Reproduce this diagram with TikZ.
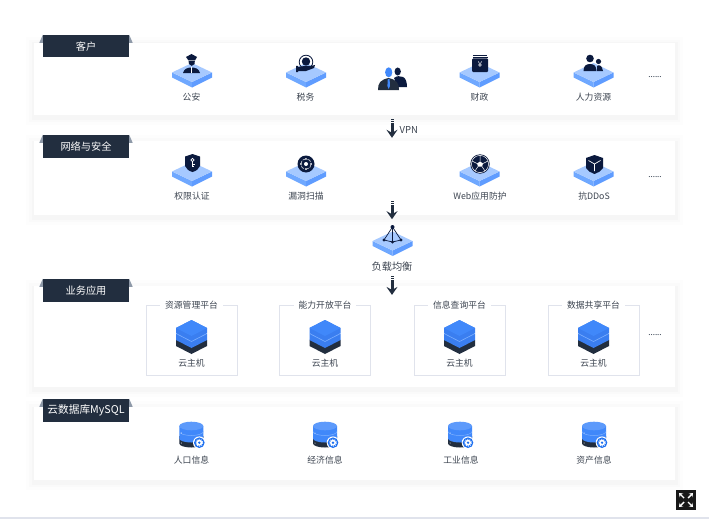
\documentclass[tikz,border=0pt]{standalone}
\usepackage{fontspec}
\setmainfont{Noto Sans CJK SC}
\usetikzlibrary{
arrows.meta,
calc,
positioning
}
\definecolor{tabdark}{HTML}{222E3F}
\definecolor{earcolor}{HTML}{8E99A8}
\definecolor{iconnavy}{HTML}{0B1A3E}
\definecolor{labelgray}{HTML}{3C4450}
\definecolor{platetop}{HTML}{A6C9FF}
\definecolor{plateleft}{HTML}{6FA8FF}
\definecolor{plateright}{HTML}{5F9CFF}
\definecolor{hostblue}{HTML}{4088FA}
\definecolor{hostside}{HTML}{3A7EF0}
\definecolor{hostline}{HTML}{7DB0FF}
\definecolor{gearblue}{HTML}{1C6FF0}
\definecolor{platedge}{HTML}{E0E3EC}
\tikzset{>=latex,
	panel/.style={fill=white,minimum width=641pt,inner sep=0pt,
		preaction={draw=black,draw opacity=.007,line width=16pt,transform canvas={yshift=-2pt}},
		preaction={draw=black,draw opacity=.01,line width=10pt,transform canvas={yshift=-2pt}},
		preaction={draw=black,draw opacity=.014,line width=5pt,transform canvas={yshift=-2pt}}},
	tabbox/.style={fill=tabdark,text=white,minimum width=86pt,minimum height=22.5pt,inner sep=0pt,below right,font=\fontsize{10.2}{12}\selectfont},
	itemlabel/.style={text=labelgray,inner sep=0pt,font=\fontsize{8.8}{11}\selectfont},
	platbox/.style={draw=platedge,line width=1pt,minimum width=91pt,minimum height=70pt,inner sep=0pt},
	plattitle/.style={fill=white,text=labelgray,inner sep=0pt,inner xsep=5pt,font=\fontsize{8.8}{11}\selectfont},
	moredots/.style={text=tabdark,inner sep=0pt,font=\fontsize{8}{9}\selectfont},
	flowtop/.style={draw=tabdark,line width=3pt,dash pattern=on 1pt off 1pt},
	flowline/.style={draw=tabdark,line width=3pt,-{Stealth[width=11pt,length=8pt,inset=3pt]}},
	isoplate/.pic={
		\fill[plateleft] (-20,0) -- (0,9.5) -- (0,15) -- (-20,5) -- cycle;
		\fill[plateright] (20,0) -- (0,9.5) -- (0,15) -- (20,5) -- cycle;
		\fill[platetop] (-20,0) -- (0,-9.5) -- (20,0) -- (0,9.5) -- cycle;
	},
	hoststack/.pic={
		\fill[tabdark] (-15.5,12) -- (0,4) -- (15.5,12) -- (15.5,18) -- (0,26) -- (-15.5,18) -- cycle;
		\fill[hostside] (-15.5,6) -- (0,-2) -- (15.5,6) -- (15.5,12) -- (0,20) -- (-15.5,12) -- cycle;
		\fill[hostside] (-15.5,0) -- (0,-8) -- (15.5,0) -- (15.5,5) -- (0,13) -- (-15.5,5) -- cycle;
		\fill[hostblue] (-15.5,0) -- (0,-8) -- (15.5,0) -- (0,8) -- cycle;
		\draw[hostline,line width=.6pt] (-15.5,5.5) -- (0,13.5) -- (15.5,5.5);
	},
	dbdisk/.pic={
		\fill[tabdark] (-12,14) -- (-12,21.5) arc[start angle=180,end angle=360,x radius=12,y radius=-4] -- (12,14) -- cycle;
		\fill[hostblue] (-12,4) -- (-12,16.5) arc[start angle=180,end angle=360,x radius=12,y radius=-4] -- (12,4) -- cycle;
		\draw[hostline,line width=.5pt] (-12,9.5) arc[start angle=180,end angle=360,x radius=12,y radius=-4];
		\fill[hostblue!85!white] (0,4) ellipse[x radius=12,y radius=4.3];
		\fill[white] (-10,11) circle[radius=.5] (-10,21) circle[radius=.5];
		\fill[white] (8,20.7) circle[radius=6.3];
		\fill[gearblue] (8,20.7) circle[radius=5.3];
		\fill[white] (8,20.7) circle[radius=3];
		\draw[white,line width=.8pt,dash pattern=on 1pt off 1.2pt] (8,20.7) circle[radius=3.5];
		\fill[gearblue] (8,20.7) circle[radius=1.3];
	}
}
\newcommand{\tabears}[1]{
	\fill[earcolor] ([xshift=-3.5pt,yshift=-8pt]#1.north west) -- (#1.north west) -- ([yshift=-8pt]#1.north west) -- cycle;
	\fill[earcolor] ([xshift=3.5pt,yshift=-8pt]#1.north east) -- (#1.north east) -- ([yshift=-8pt]#1.north east) -- cycle;
}
\begin{document}
\begin{tikzpicture}[x=1pt,y=-1pt]
	\useasboundingbox (0,0) rectangle (709,519);
	\fill[platedge] (0,517) rectangle (709,519);

	\node[panel,minimum height=72pt] (customer) at (354.5,79) {};
	\node[panel,minimum height=74pt] (security) at (354.5,178) {};
	\node[panel,minimum height=101pt] (business) at (354.5,336.5) {};
	\node[panel,minimum height=73pt] (database) at (354.5,443.5) {};

	% tabs
	\node[tabbox] (tabcustomer) at ([xshift=9pt,yshift=8pt]customer.north west) {客户};
	\node[tabbox] (tabsecurity) at ([xshift=9pt,yshift=6pt]security.north west) {网络与安全};
	\node[tabbox] (tabbusiness) at ([xshift=9pt,yshift=7pt]business.north west) {业务应用};
	\node[tabbox,font=\fontsize{10.7}{12}\selectfont] (tabdatabase) at ([xshift=9pt,yshift=8pt]database.north west) {云数据库MySQL};
	\tabears{tabcustomer}
	\tabears{tabsecurity}
	\tabears{tabbusiness}
	\tabears{tabdatabase}

	% customer row
	\pic at (192,72.5) {isoplate};
	\pic at (306,72.5) {isoplate};
	\pic at (479.5,72.5) {isoplate};
	\pic at (593.5,72.5) {isoplate};
	\node[itemlabel] (police) at (191.5,97.5) {公安};
	\node[itemlabel] (tax) at (305.5,97.5) {税务};
	\node[itemlabel] (finance) at (479.5,97.5) {财政};
	\node[itemlabel] (hr) at (593.5,97.5) {人力资源};
	\node[moredots] (moreA) at (655,77.5) {......};

	% police
	\fill[iconnavy] (186,57) -- (191.5,54) -- (197,57) -- (195,60.5) -- (188.5,60.5) -- cycle;
	\fill[iconnavy] (188.5,61) -- (194.8,61) -- (194.5,64) .. controls (193.5,66.5) and (190,66.5) .. (189,64) -- cycle;
	\fill[iconnavy] (183,73) .. controls (184,68.5) and (188,67.5) .. (191.5,67.5) .. controls (195,67.5) and (199,68.5) .. (200,73) -- cycle;
	\draw[white,line width=.6pt] (191.5,67) -- (191.5,73);
	% tax
	\draw[iconnavy,line width=.8pt] (306,62) circle[radius=6.8];
	\fill[iconnavy] (306,61.5) circle[radius=4.2];
	\fill[iconnavy] (296,66) -- (298,66) -- (298,67) -- (304,66) .. controls (308,66) and (312,66) .. (315,65) -- (314,68) -- (306,71) -- (298,71) -- (298,72) -- (296,72) -- cycle;
	% finance
	\fill[iconnavy,rounded corners=1pt] (472,58.5) rectangle (488,72);
	\fill[iconnavy] (473,55) rectangle (487,55.8);
	\fill[iconnavy] (472.5,56.8) rectangle (487.5,57.6);
	\node[text=white,inner sep=0pt,font=\fontsize{8}{9}\selectfont] (yen) at (480,65) {¥};
	% human resources
	\fill[iconnavy] (590,58.5) circle[radius=3.8];
	\fill[iconnavy] (583.5,71) .. controls (583.5,66) and (586,64) .. (590,64) .. controls (594,64) and (596.5,66) .. (596.5,71) -- cycle;
	\fill[iconnavy] (598.5,61.5) circle[radius=2.6];
	\fill[iconnavy] (597,71) -- (597,66) .. controls (599,64.5) and (602,65) .. (603,71) -- cycle;
	% people between the plates
	\fill[iconnavy] (397.7,71.5) ellipse[x radius=3.2,y radius=4];
	\fill[iconnavy] (394,78) .. controls (397,75.5) and (400,76) .. (403,77) .. controls (406,78) and (407,83) .. (407,87) -- (398,87) -- cycle;
	\fill[tabdark] (378,90) .. controls (378,83) and (380,80) .. (388.5,78) .. controls (397,80) and (399,83) .. (399,90) -- cycle;
	\fill[hostblue] (388.7,72.3) ellipse[x radius=3.6,y radius=5];
	\fill[hostblue] (387.8,79) -- (389.6,79) -- (390,86) -- (388.7,89) -- (387.4,86) -- cycle;

	% security row
	\pic at (192,171.5) {isoplate};
	\pic at (306,171.5) {isoplate};
	\pic at (479.5,171.5) {isoplate};
	\pic at (593.5,171.5) {isoplate};
	\node[itemlabel] (auth) at (192,196.5) {权限认证};
	\node[itemlabel] (scan) at (306,196.5) {漏洞扫描};
	\node[itemlabel] (waf) at (480,196.5) {Web应用防护};
	\node[itemlabel] (ddos) at (594,196.5) {抗DDoS};
	\node[moredots] (moreB) at (655,177) {......};

	% shield with key
	\fill[iconnavy] (185,156.5) -- (192.5,154) -- (200,156.5) -- (200,166) .. controls (199,169) and (196,171) .. (192.5,172) .. controls (189,171) and (186,169) .. (185,166) -- cycle;
	\draw[white,line width=.7pt] (192.5,160) circle[radius=1.6];
	\draw[white,line width=.7pt] (192.5,161.6) -- (192.5,167) (192.5,164) -- (194.5,164) (192.5,166) -- (194,166);
	% target
	\fill[iconnavy] (306,164) circle[radius=8.5];
	\draw[white,line width=.5pt,dash pattern=on 4pt off 1.2pt] (306,164) circle[radius=5.3];
	\fill[white] (306,164) circle[radius=2];
	\fill[white] (301,164) circle[radius=.8] (311,164) circle[radius=.8] (306,159) circle[radius=.8] (306,169) circle[radius=.8];
	% web ball
	\fill[iconnavy] (480,164) circle[radius=9.7];
	\draw[white,line width=.5pt] (480,164) circle[radius=8.6];
	\fill[white] (480,161.5) -- (483,163.5) -- (482,166.5) -- (478,166.5) -- (477,163.5) -- cycle;
	\draw[white,line width=.5pt] (480,161.5) -- (480,155.5) (483,163.5) -- (488,161) (482,166.5) -- (485,171) (478,166.5) -- (475,171) (477,163.5) -- (472,161);
	% cube shield
	\fill[iconnavy] (594.5,155) -- (603,158) -- (603,168) .. controls (601,171) and (598,173) .. (594.5,174) .. controls (591,173) and (588,171) .. (586,168) -- (586,158) -- cycle;
	\draw[white,line width=.7pt] (594.5,164) -- (594.5,171) (594.5,164) -- (588.5,160.5) (594.5,164) -- (600.5,160.5);

	% load balancing
	\pic at (392.5,241) {isoplate};
	\node[itemlabel,font=\fontsize{10.2}{12}\selectfont] (balance) at (392,267) {负载均衡};
	\draw[iconnavy,line width=.7pt] (392.5,227) -- (384,240) -- (392.5,242) -- (401,240) -- cycle (392.5,227) -- (392.5,242);
	\fill[iconnavy] (392.5,227) circle[radius=2] (384,240) circle[radius=1.7] (392.5,242) circle[radius=1.7] (401,240) circle[radius=1.7];

	% business platforms
	\node[platbox] (platA) at (191.5,340) {};
	\node[platbox,right=41.5pt of platA] (platB) {};
	\node[platbox,right=42.5pt of platB] (platC) {};
	\node[platbox,right=42pt of platC] (platD) {};
	\node[plattitle] (titleA) at ([yshift=-1pt]platA.north) {资源管理平台};
	\node[plattitle] (titleB) at ([yshift=-1pt]platB.north) {能力开放平台};
	\node[plattitle] (titleC) at ([yshift=-1pt]platC.north) {信息查询平台};
	\node[plattitle] (titleD) at ([yshift=-1pt]platD.north) {数据共享平台};
	\pic at (191.5,328) {hoststack};
	\pic at (325,328) {hoststack};
	\pic at (459.5,328) {hoststack};
	\pic at (593.5,328) {hoststack};
	\node[itemlabel] (hostA) at (191.5,362.7) {云主机};
	\node[itemlabel] (hostB) at (325,362.7) {云主机};
	\node[itemlabel] (hostC) at (459.5,362.7) {云主机};
	\node[itemlabel] (hostD) at (593.5,362.7) {云主机};
	\node[moredots] (moreC) at (655,335.5) {......};

	% databases
	\pic at (191.3,422) {dbdisk};
	\pic at (325,422) {dbdisk};
	\pic at (460,422) {dbdisk};
	\pic at (594,422) {dbdisk};
	\node[itemlabel] (population) at (191.5,460.5) {人口信息};
	\node[itemlabel] (economy) at (325,460.5) {经济信息};
	\node[itemlabel] (industry) at (461,460.5) {工业信息};
	\node[itemlabel] (assets) at (594,460.5) {资产信息};

	% arrows
	\coordinate (vpnA) at ([xshift=37.5pt,yshift=-4pt]customer.south);
	\coordinate (vpnB) at ([xshift=37.5pt,yshift=-9pt]customer.south);
	\coordinate (vpnC) at ([xshift=37.5pt,yshift=3pt]security.north);
	\draw[flowtop] (vpnA) -- (vpnB);
	\draw[flowline] (vpnB) -- (vpnC);
	\node[itemlabel,font=\fontsize{9.5}{11}\selectfont,right=7.5pt of vpnB,yshift=-5.5pt] (vpn) {VPN};

	\coordinate (lbA) at ([xshift=37.5pt,yshift=14pt]security.south);
	\coordinate (lbB) at ([xshift=37.5pt,yshift=9pt]security.south);
	\coordinate (lbC) at ([xshift=37.5pt,yshift=-4pt]security.south);
	\draw[flowtop] (lbA) -- (lbB);
	\draw[flowline] (lbB) -- (lbC);

	\coordinate (appA) at ([yshift=-4pt]balance.south);
	\coordinate (appB) at ([yshift=-9pt]balance.south);
	\coordinate (appC) at ([yshift=-23pt]balance.south);
	\draw[flowtop] (appA) -- (appB);
	\draw[flowline] (appB) -- (appC);

	% expand button
	\node[fill=black!90,minimum size=20pt,inner sep=0pt] (expand) at (686,500) {};
	\draw[white,line width=1.4pt,-{Stealth[width=5pt,length=3.5pt]}] ([xshift=-2pt,yshift=2pt]expand.center) -- ([xshift=-7pt,yshift=7pt]expand.center);
	\draw[white,line width=1.4pt,-{Stealth[width=5pt,length=3.5pt]}] ([xshift=2pt,yshift=2pt]expand.center) -- ([xshift=7pt,yshift=7pt]expand.center);
	\draw[white,line width=1.4pt,-{Stealth[width=5pt,length=3.5pt]}] ([xshift=-2pt,yshift=-2pt]expand.center) -- ([xshift=-7pt,yshift=-7pt]expand.center);
	\draw[white,line width=1.4pt,-{Stealth[width=5pt,length=3.5pt]}] ([xshift=2pt,yshift=-2pt]expand.center) -- ([xshift=7pt,yshift=-7pt]expand.center);
\end{tikzpicture}
\end{document}
